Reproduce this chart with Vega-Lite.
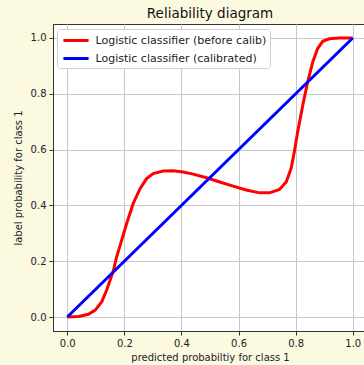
{
  "$schema": "https://vega.github.io/schema/vega-lite/v6.json",
  "autosize": {"type": "none"},
  "padding": {"left": 53, "top": 24, "right": 0, "bottom": 34},
  "width": 314,
  "height": 307,
  "background": "#fcf9e1",
  "title": {"text": "Reliability diagram", "fontSize": 13.5, "font": "DejaVu Sans", "fontWeight": "normal", "color": "#111", "offset": 4, "anchor": "middle"},
  "config": {
    "view": {"fill": "white", "stroke": "#333", "strokeWidth": 1},
    "axis": {"labelFont": "DejaVu Sans", "titleFont": "DejaVu Sans", "labelFontSize": 10, "titleFontSize": 10, "titleFontWeight": "normal", "labelColor": "#222", "titleColor": "#222", "tickColor": "#333", "domainColor": "#333", "gridColor": "#c8c8c8", "gridWidth": 1, "tickSize": 4, "labelPadding": 3}
  },
  "data": {"values": [
    {"x": 0.0, "y": 0.0, "series": "Logistic classifier (before calib)"},
    {"x": 0.04, "y": 0.002, "series": "Logistic classifier (before calib)"},
    {"x": 0.074, "y": 0.01, "series": "Logistic classifier (before calib)"},
    {"x": 0.098, "y": 0.025, "series": "Logistic classifier (before calib)"},
    {"x": 0.121, "y": 0.055, "series": "Logistic classifier (before calib)"},
    {"x": 0.138, "y": 0.097, "series": "Logistic classifier (before calib)"},
    {"x": 0.15, "y": 0.132, "series": "Logistic classifier (before calib)"},
    {"x": 0.162, "y": 0.168, "series": "Logistic classifier (before calib)"},
    {"x": 0.173, "y": 0.216, "series": "Logistic classifier (before calib)"},
    {"x": 0.185, "y": 0.256, "series": "Logistic classifier (before calib)"},
    {"x": 0.208, "y": 0.335, "series": "Logistic classifier (before calib)"},
    {"x": 0.231, "y": 0.407, "series": "Logistic classifier (before calib)"},
    {"x": 0.255, "y": 0.46, "series": "Logistic classifier (before calib)"},
    {"x": 0.278, "y": 0.496, "series": "Logistic classifier (before calib)"},
    {"x": 0.301, "y": 0.514, "series": "Logistic classifier (before calib)"},
    {"x": 0.336, "y": 0.523, "series": "Logistic classifier (before calib)"},
    {"x": 0.371, "y": 0.524, "series": "Logistic classifier (before calib)"},
    {"x": 0.406, "y": 0.52, "series": "Logistic classifier (before calib)"},
    {"x": 0.441, "y": 0.512, "series": "Logistic classifier (before calib)"},
    {"x": 0.488, "y": 0.499, "series": "Logistic classifier (before calib)"},
    {"x": 0.534, "y": 0.484, "series": "Logistic classifier (before calib)"},
    {"x": 0.581, "y": 0.469, "series": "Logistic classifier (before calib)"},
    {"x": 0.627, "y": 0.455, "series": "Logistic classifier (before calib)"},
    {"x": 0.674, "y": 0.445, "series": "Logistic classifier (before calib)"},
    {"x": 0.709, "y": 0.445, "series": "Logistic classifier (before calib)"},
    {"x": 0.743, "y": 0.457, "series": "Logistic classifier (before calib)"},
    {"x": 0.767, "y": 0.484, "series": "Logistic classifier (before calib)"},
    {"x": 0.784, "y": 0.532, "series": "Logistic classifier (before calib)"},
    {"x": 0.795, "y": 0.59, "series": "Logistic classifier (before calib)"},
    {"x": 0.807, "y": 0.663, "series": "Logistic classifier (before calib)"},
    {"x": 0.825, "y": 0.759, "series": "Logistic classifier (before calib)"},
    {"x": 0.842, "y": 0.842, "series": "Logistic classifier (before calib)"},
    {"x": 0.86, "y": 0.914, "series": "Logistic classifier (before calib)"},
    {"x": 0.877, "y": 0.962, "series": "Logistic classifier (before calib)"},
    {"x": 0.895, "y": 0.988, "series": "Logistic classifier (before calib)"},
    {"x": 0.918, "y": 0.997, "series": "Logistic classifier (before calib)"},
    {"x": 0.953, "y": 1.0, "series": "Logistic classifier (before calib)"},
    {"x": 1.0, "y": 1.0, "series": "Logistic classifier (before calib)"},
    {"x": 0.0, "y": 0.0, "series": "Logistic classifier (calibrated)"},
    {"x": 1.0, "y": 1.0, "series": "Logistic classifier (calibrated)"}
  ]},
  "mark": {"type": "line", "strokeWidth": 3, "clip": true},
  "encoding": {
    "x": {"field": "x", "type": "quantitative", "title": "predicted probabiltiy for class 1",
      "scale": {"domain": [-0.05, 1.05], "nice": false, "zero": false},
      "axis": {"values": [0, 0.2, 0.4, 0.6, 0.8, 1.0], "format": ".1f", "titlePadding": 4}},
    "y": {"field": "y", "type": "quantitative", "title": "label probability for class 1",
      "scale": {"domain": [-0.05, 1.05], "nice": false, "zero": false},
      "axis": {"values": [0, 0.2, 0.4, 0.6, 0.8, 1.0], "format": ".1f", "titlePadding": 7}},
    "color": {"field": "series", "type": "nominal",
      "scale": {"domain": ["Logistic classifier (before calib)", "Logistic classifier (calibrated)"], "range": ["#ff0000", "#0000ff"]},
      "legend": {"title": null, "orient": "none", "legendX": 4, "legendY": 5, "symbolType": "M-1.8,0L1.8,0", "symbolStrokeWidth": 3, "symbolSize": 196, "symbolOffset": 7.5, "labelFont": "DejaVu Sans", "labelFontSize": 11, "labelLimit": 400, "labelColor": "#222", "fillColor": "white", "strokeColor": "#d0d0d0", "cornerRadius": 3, "padding": 3, "rowPadding": 3, "labelOffset": 11}}
  }
}
